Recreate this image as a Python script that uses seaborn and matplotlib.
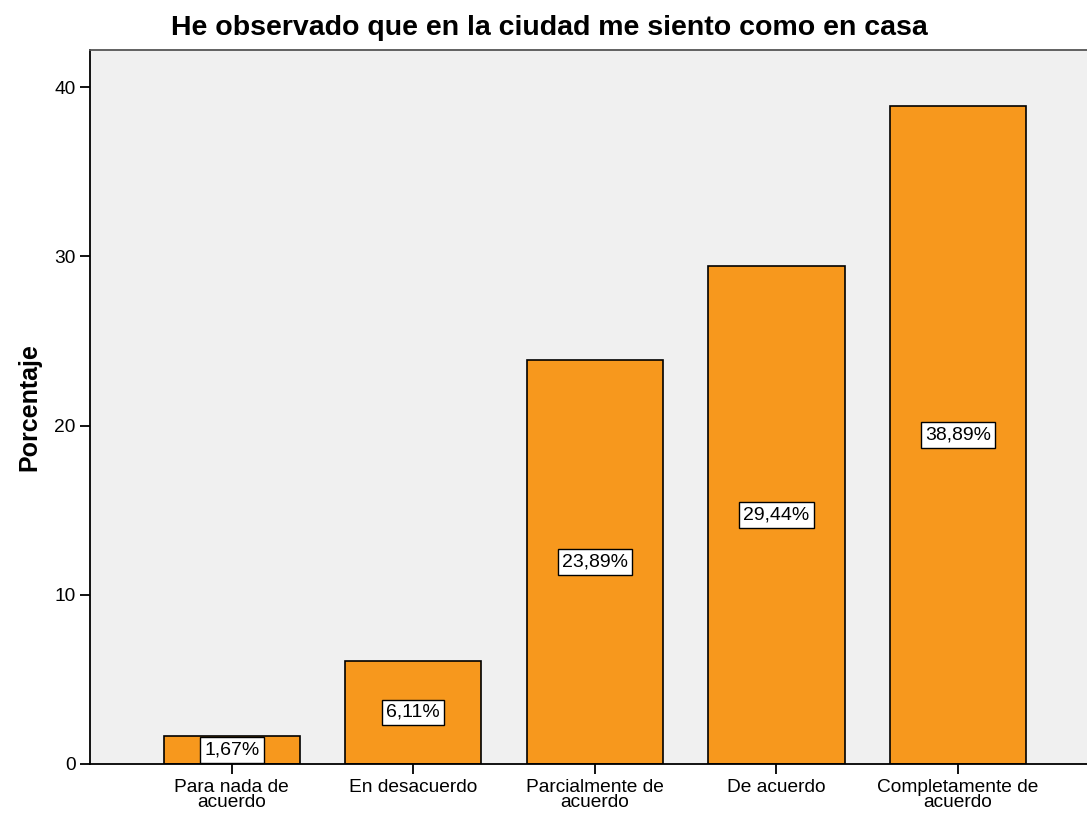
import matplotlib
matplotlib.use("Agg")
import matplotlib.pyplot as plt
import seaborn as sns
import pandas as pd

categories = ["Para nada de\nacuerdo", "En desacuerdo", "Parcialmente de\nacuerdo",
              "De acuerdo", "Completamente de\nacuerdo"]
values = [1.67, 6.11, 23.89, 29.44, 38.89]
yticks = [0, 10, 20, 30, 40]
title = "He observado que en la ciudad me siento como en casa"
ylabel = "Porcentaje"

sns.set_style("white")
plt.rcParams['font.family'] = ['Liberation Sans', 'DejaVu Sans']
plt.rcParams['text.color'] = 'black'
plt.rcParams['axes.labelcolor'] = 'black'
plt.rcParams['xtick.color'] = 'black'
plt.rcParams['ytick.color'] = 'black'

df = pd.DataFrame({"cat": categories, "val": values})

fig = plt.figure(figsize=(10.87, 8.18), dpi=100)
ax = fig.add_axes([90/1087, 1-764/818, 1-90/1087, (764-50)/818])
ax.set_facecolor("#F0F0F0")

sns.barplot(data=df, x="cat", y="val", color="#F7981D", saturation=1,
            edgecolor="black", linewidth=1.2, width=0.75, ax=ax)

for i, v in enumerate(values):
    ax.text(i, v/2, f"{v:.2f}".replace('.', ',') + '%', ha='center', va='center',
            fontsize=14, color='black',
            bbox=dict(boxstyle='square,pad=0.22', facecolor='white', edgecolor='black', linewidth=1))

ax.set_xlim(-0.78, 4.71)
ax.set_ylim(0, 42.2)
ax.set_yticks(yticks)
ax.set_yticklabels([str(t) for t in yticks])
ax.tick_params(axis='both', direction='out', length=7, width=1.3, colors='black',
               labelcolor='black', labelsize=13.8, left=True, bottom=True)
for lbl in ax.get_xticklabels():
    lbl.set_linespacing(0.9)
ax.set_xlabel("")
ax.set_ylabel(ylabel, fontsize=18, fontweight='bold', labelpad=9, color='black')
fig.text(549/1087, 1-28/818, title, fontsize=20.5, fontweight='bold',
         ha='center', va='center', color='black')

for s in ['left', 'bottom', 'top']:
    ax.spines[s].set_visible(True)
    ax.spines[s].set_color('black')
    ax.spines[s].set_linewidth(1.3)
ax.spines['top'].set_color('#555555')
ax.spines['right'].set_visible(False)

fig.savefig("out.png", dpi=100)
